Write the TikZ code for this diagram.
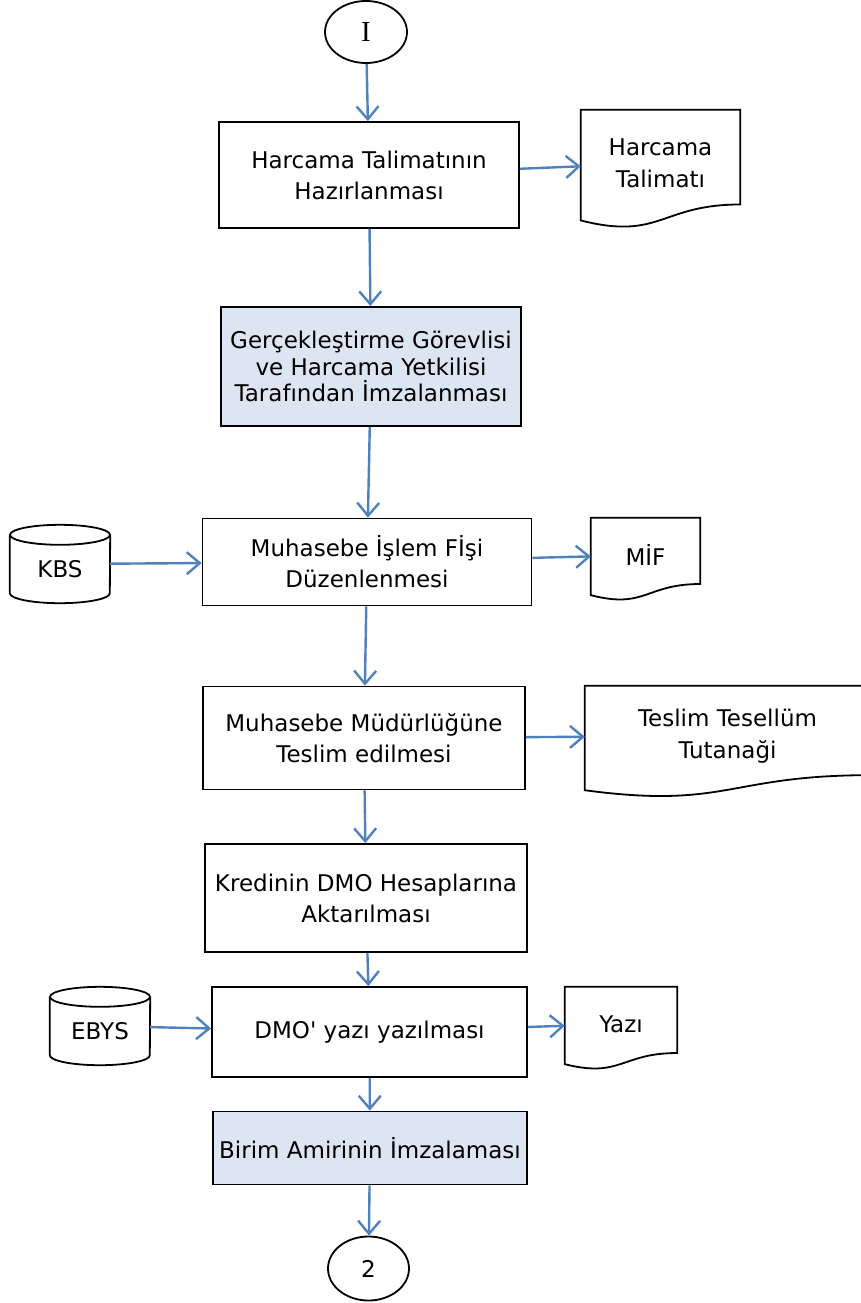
\documentclass[tikz,border=0pt]{standalone}
\usepackage{fontspec}
\setmainfont{DejaVu Sans}
\newfontfamily\serifI{Liberation Serif}
\usetikzlibrary{arrows.meta,calc,shapes.geometric}

\definecolor{flowblue}{RGB}{79,129,189}
\definecolor{signfill}{RGB}{220,230,242}

\tikzset{
	procbox/.style={draw, rectangle, line width=1.8pt, align=center, inner sep=0pt, font=\fontsize{23}{31}\selectfont},
	signbox/.style={procbox, fill=signfill},
	docnode/.style={rectangle, align=center, inner sep=0pt, font=\fontsize{23}{32}\selectfont},
	drumnode/.style={rectangle, inner sep=0pt, minimum width=100pt, minimum height=78pt, text height=26pt, text depth=0pt, font=\fontsize{23}{26}\selectfont},
	termnode/.style={draw, ellipse, line width=1.8pt, inner sep=0pt},
	flow/.style={draw=flowblue, line width=2.4pt, -{Straight Barb[length=13pt, width=22pt]}}
}

% outline of a document symbol around a node
\newcommand\docoutline[1]{%
	\draw[line width=1.8pt] (#1.north west) -- (#1.north east) -- ($(#1.north east)!0.89!(#1.south east)$)
		.. controls ($(#1.north)!0.89!(#1.south)$) and ($(#1.north)!1.23!(#1.south)$) .. ($(#1.north west)!1.04!(#1.south west)$) -- cycle;}
% outline of a database drum around a node
\newcommand\drumoutline[1]{%
	\draw[line width=1.8pt] ([yshift=-10pt]#1.north west) -- ([yshift=10pt]#1.south west)
		arc[start angle=180, end angle=360, x radius=50pt, y radius=10pt] -- ([yshift=-10pt]#1.north east);
	\draw[line width=1.8pt] ([yshift=-10pt]#1.north) ellipse [x radius=50pt, y radius=10pt];}

\begin{document}
\begin{tikzpicture}[x=1pt, y=1pt]
	\useasboundingbox (0,0) rectangle (861,-1303);
	\node[termnode, minimum width=82pt, minimum height=62pt, font=\serifI\fontsize{29}{32}\selectfont, name=basla] at (366,-32) {I};
	\node[procbox, minimum width=300pt, minimum height=106pt, name=hazirlama] at (369,-175) {Harcama Talimatının\\Hazırlanması};
	\node[docnode, minimum width=159pt, minimum height=106pt, name=talimat] at (660.5,-163) {Harcama\\Talimatı};
	\docoutline{talimat}
	\node[signbox, minimum width=300pt, minimum height=119pt, font=\fontsize{23}{26.5}\selectfont, name=imza] at (371,-366.5) {Gerçekleştirme Görevlisi\\ve Harcama Yetkilisi\\Tarafından İmzalanması};
	\node[procbox, minimum width=329pt, minimum height=87pt, name=mif] at (367,-562) {Muhasebe İşlem Fİşi\\Düzenlenmesi};
	\node[drumnode, name=kbs] at (60,-564) {KBS};
	\drumoutline{kbs}
	\node[docnode, minimum width=109pt, minimum height=74pt, name=mifdoc] at (645.5,-555) {MİF};
	\docoutline{mifdoc}
	\node[procbox, minimum width=322pt, minimum height=103pt, name=teslim] at (364,-738) {Muhasebe Müdürlüğüne\\Teslim edilmesi};
	\node[docnode, minimum width=285pt, minimum height=100pt, name=tutanak] at (727.5,-736) {Teslim Tesellüm\\Tutanaği};
	\docoutline{tutanak}
	\node[procbox, minimum width=322pt, minimum height=108pt, name=kredi] at (366,-898) {Kredinin DMO Hesaplarına\\Aktarılması};
	\node[procbox, minimum width=315pt, minimum height=90pt, name=dmo] at (369.5,-1032) {DMO\textquotesingle{} yazı yazılması};
	\node[drumnode, name=ebys] at (100,-1026) {EBYS};
	\drumoutline{ebys}
	\node[docnode, minimum width=112pt, minimum height=74pt, name=yazi] at (621,-1024) {Yazı};
	\docoutline{yazi}
	\node[signbox, minimum width=314pt, minimum height=73pt, name=amir] at (370,-1148) {Birim Amirinin İmzalaması};
	\node[termnode, minimum width=81pt, minimum height=64pt, font=\fontsize{23}{26}\selectfont, name=bitis] at (368.5,-1268.5) {2};
	\draw[flow] (basla) -- (hazirlama);
	\draw[flow] (hazirlama) -- (talimat);
	\draw[flow] (hazirlama) -- (imza);
	\draw[flow] (imza) -- (mif);
	\draw[flow] (kbs) -- (mif);
	\draw[flow] (mif) -- (mifdoc);
	\draw[flow] (mif) -- (teslim);
	\draw[flow] (teslim) -- (tutanak);
	\draw[flow] (teslim) -- (kredi);
	\draw[flow] (kredi) -- (dmo);
	\draw[flow] (ebys) -- (dmo);
	\draw[flow] (dmo) -- (yazi);
	\draw[flow] (dmo) -- (amir);
	\draw[flow] (amir) -- (bitis);
\end{tikzpicture}
\end{document}
